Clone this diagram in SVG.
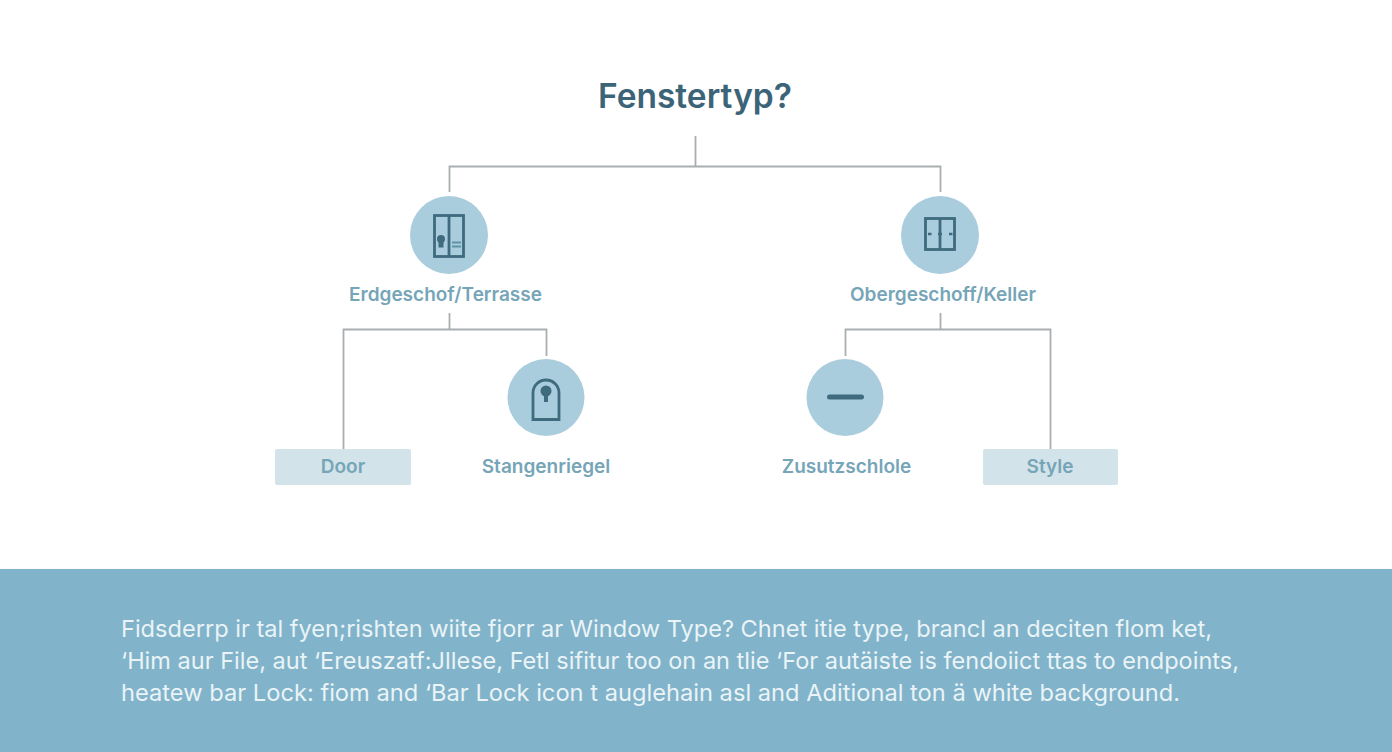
<svg xmlns="http://www.w3.org/2000/svg" width="1392" height="752" viewBox="0 0 1392 752">
<style>
text{font-family:"Inter","Liberation Sans",sans-serif}
.lab{font-size:19px;font-weight:600;fill:#76a5b8;text-anchor:middle}
.body{font-size:23.5px;fill:#eaf4f7}
.c{fill:#a9cddd}
.box{fill:#d3e3ea}
.ic{fill:none;stroke:#3f6b7e;stroke-width:2.800}
.icf{fill:#3f6b7e}
#connectors path{fill:none;stroke:#a9aeb1;stroke-width:1.800}
</style>
<rect width="1392" height="752" fill="#fff"/>
<g id="connectors">
<path d="M695.500 136V166.500M449.500 192V166.500H940.500V192"/>
<path d="M449.500 313V329.500M343.500 449V329.500H546.500V356"/>
<path d="M940.500 313V329.500M845.500 356V329.500H1050.500V449"/>
</g>
<g id="root"><text x="695" y="108" font-size="33.500" font-weight="600" fill="#3c6478" text-anchor="middle">Fenstertyp?</text></g>
<g id="n-erdgeschoss">
<circle class="c" cx="449" cy="235" r="39"/>
<rect class="ic" x="434.500" y="215.500" width="29" height="41"/>
<path class="ic" d="M449 215v41"/>
<circle class="icf" cx="441" cy="239" r="4"/><rect class="icf" x="438.500" y="240" width="5" height="7.500"/>
<path class="ic" style="stroke-width:1.800;stroke:#5f95a8" d="M452 242.500h9M452 246.500h9"/>
<text class="lab" x="445.500" y="300.500">Erdgeschof/Terrasse</text>
</g>
<g id="n-obergeschoss">
<circle class="c" cx="940" cy="235" r="39"/>
<rect class="ic" x="925.500" y="218.500" width="29" height="31"/>
<path class="ic" d="M940 218v32"/>
<path class="ic" style="stroke-width:2.500" d="M928 234h3.500M938 234h4M949 234h3.500"/>
<text class="lab" x="943" y="300.500">Obergeschoff/Keller</text>
</g>
<g id="n-door">
<rect class="box" x="275" y="449" width="136" height="36" rx="2"/>
<text class="lab" x="343" y="472.500">Door</text>
</g>
<g id="n-stangenriegel">
<circle class="c" cx="546" cy="397.500" r="38.500"/>
<path class="ic" d="M533 419.500V393a13 13 0 0 1 26 0V419.500Z"/>
<circle class="icf" cx="546" cy="391" r="5.500"/><rect class="icf" x="544" y="393" width="4" height="9"/>
<text class="lab" x="546" y="472.500">Stangenriegel</text>
</g>
<g id="n-zusatz">
<circle class="c" cx="845" cy="397.500" r="38.500"/>
<rect class="icf" x="827" y="394.500" width="37" height="5" rx="2.500"/>
<text class="lab" x="846.500" y="472.500">Zusutzschlole</text>
</g>
<g id="n-style">
<rect class="box" x="983" y="449" width="135" height="36" rx="2"/>
<text class="lab" x="1050" y="472.500">Style</text>
</g>
<g id="caption">
<rect x="0" y="569" width="1392" height="183" fill="#81b3ca"/>
<text class="body" x="121" y="636.500" textLength="1091" lengthAdjust="spacingAndGlyphs">Fidsderrp ir tal fyen;rishten wiite fjorr ar  Window Type? Chnet itie type, brancl an deciten flom ket,</text>
<text class="body" x="121" y="668.500" textLength="1118" lengthAdjust="spacingAndGlyphs">‘Him aur File, aut ‘Ereuszatf:Jllese, Fetl sifitur too on an tlie ‘For autäiste is fendoiict ttas to endpoints,</text>
<text class="body" x="121" y="700.500" textLength="1059" lengthAdjust="spacingAndGlyphs">heatew bar Lock: fiom and ‘Bar Lock icon t auglehain asl and Aditional ton ä white background.</text>
</g>
</svg>
